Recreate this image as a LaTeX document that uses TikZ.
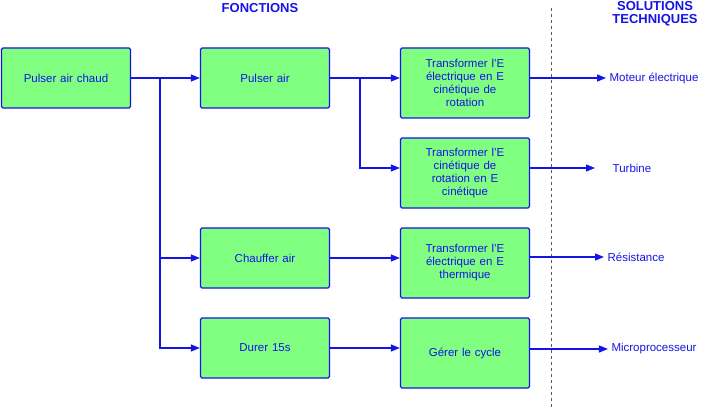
\documentclass[tikz,border=0pt]{standalone}
\usepackage{fontspec}
\setmainfont{Liberation Sans}
\usetikzlibrary{positioning,arrows.meta}
\definecolor{fblue}{RGB}{20,20,230}
\definecolor{fgreen}{RGB}{128,255,128}

\begin{document}
\begin{tikzpicture}[x=1pt,y=-1pt,
fbox/.style={rectangle, rounded corners=1.5pt, draw=fblue, line width=1.3pt, fill=fgreen, text=fblue, minimum width=129pt, minimum height=60pt, align=center, text width=118pt, font=\fontsize{11.5}{13}\selectfont},
tall/.style={minimum height=70pt},
sol/.style={text=fblue, font=\fontsize{11.5}{13}\selectfont},
link/.style={draw=fblue, line width=1.3pt, -{Triangle[length=9pt,width=7pt]}},
]
\useasboundingbox (0,0) rectangle (707,409);

% titles and separator
\node[text=fblue, font=\bfseries\fontsize{13}{14}\selectfont] (title) at (260,8) {FONCTIONS};
\node[text=fblue, font=\bfseries\fontsize{13}{13}\selectfont, align=center] (soltitle) at (655,14) {SOLUTIONS\\TECHNIQUES};
\draw[dashed, gray!70!black] (551,8) -- (551,409);

% function boxes
\node[fbox](main) at (66,78){Pulser air chaud};
\node[fbox](pulse) at (265,78){Pulser air};
\node[fbox](heat) at (265,258){Chauffer air};
\node[fbox](last) at (265,348){Durer 15s};
\node[fbox,tall](elecrot) at (465,83){Transformer l'E\\électrique en E\\cinétique de\\rotation};
\node[fbox,tall](rotkin) at (465,173){Transformer l'E\\cinétique de\\rotation en E\\cinétique};
\node[fbox,tall](elecheat) at (465,263){Transformer l'E\\électrique en E\\thermique};
\node[fbox,tall](cycle) at (465,353){Gérer le cycle};

% solutions
\node[sol](motor) at (654,78){Moteur électrique};
\node[sol](turbine) at (632,168){Turbine};
\node[sol](resist) at (636,257){Résistance};
\node[sol](micro) at (654,349){Microprocesseur};

% links
\coordinate (split1) at (160,78);
\coordinate (split2) at (360,78);
\coordinate (turbend) at (595,168);
\draw[link] (main.east) -- (pulse.west);
\draw[link] (split1) |- (heat.west);
\draw[link] (split1) |- (last.west);
\draw[link] (pulse.east) -- (elecrot.west |- pulse);
\draw[link] (split2) |- (rotkin.west |- turbend);
\draw[link] (heat.east) -- (elecheat.west |- heat);
\draw[link] (last.east) -- (cycle.west |- last);
\draw[link] (elecrot.east |- motor) -- (motor.west);
\draw[link] (rotkin.east |- turbend) -- (turbend);
\draw[link] (elecheat.east |- resist) -- (resist.west);
\draw[link] (cycle.east |- micro) -- (micro.west);
\end{tikzpicture}
\end{document}
